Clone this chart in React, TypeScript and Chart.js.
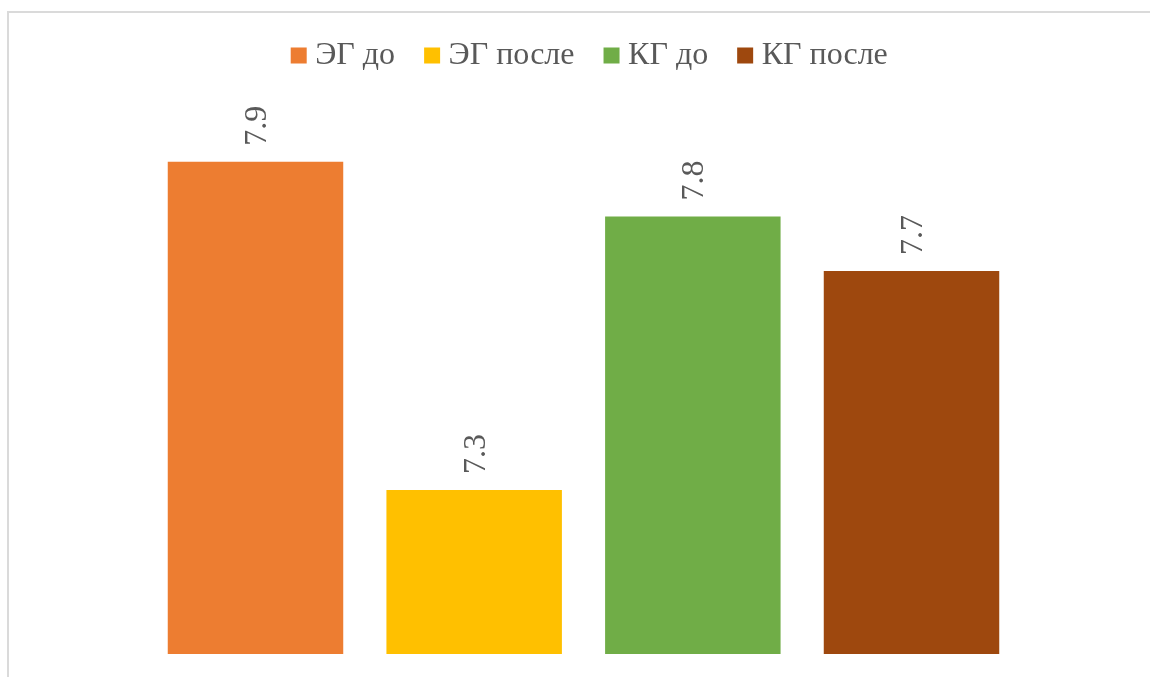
import React, { useEffect, useRef } from "react";
import { Chart, registerables } from "chart.js";

Chart.register(...registerables);

const categories: string[] = [""];
const seriesNames: string[] = ["ЭГ до", "ЭГ после", "КГ до", "КГ после"];
const seriesValues: number[][] = [[7.9], [7.3], [7.8], [7.7]];
const seriesColors: string[] = ["#ED7D31", "#FFC000", "#70AD47", "#9E480E"];

const FONT = '"Liberation Serif", "Times New Roman", serif';
const TEXT_COLOR = "#595959";

const valueLabels = {
  id: "valueLabels",
  afterDatasetsDraw(chart: any) {
    const ctx = chart.ctx;
    ctx.save();
    ctx.fillStyle = TEXT_COLOR;
    ctx.font = `32px ${FONT}`;
    ctx.textAlign = "left";
    ctx.textBaseline = "middle";
    chart.data.datasets.forEach((ds: any, i: number) => {
      const meta = chart.getDatasetMeta(i);
      meta.data.forEach((bar: any, j: number) => {
        const v = ds.data[j];
        ctx.save();
        ctx.translate(bar.x + 2, bar.y - 16);
        ctx.rotate(-Math.PI / 2);
        ctx.fillText(v.toFixed(1), 0, 0);
        ctx.restore();
      });
    });
    ctx.restore();
  },
};

export default function App() {
  const ref = useRef<HTMLCanvasElement | null>(null);

  useEffect(() => {
    if (!ref.current) return;
    const chart = new Chart(ref.current, {
      type: "bar",
      data: {
        labels: categories,
        datasets: seriesNames.map((name, i) => ({
          label: name,
          data: seriesValues[i],
          backgroundColor: seriesColors[i],
          borderWidth: 0,
          categoryPercentage: 0.7988,
          barPercentage: 0.8025,
        })),
      },
      options: {
        responsive: false,
        animation: false,
        devicePixelRatio: 1,
        layout: { padding: { left: 36, right: 0, top: 3, bottom: 23 } },
        plugins: {
          tooltip: { enabled: false },
          legend: {
            position: "top",
            labels: {
              usePointStyle: true,
              pointStyle: "rect",
              boxWidth: 1,
              boxHeight: 16,
              padding: 36.5,
              color: TEXT_COLOR,
              font: { family: FONT, size: 32 },
            },
          },
        },
        scales: {
          x: { display: false },
          y: {
            position: "right",
            min: 7,
            max: 8.0466,
            ticks: { display: false },
            grid: { display: false },
            border: { display: false },
            afterFit(scale: any) {
              scale.width = 19;
            },
          },
        },
      },
      plugins: [valueLabels],
    });
    return () => chart.destroy();
  }, []);

  return (
    <div
      style={{
        position: "fixed",
        left: 0,
        top: 0,
        width: 1150,
        height: 677,
        overflow: "hidden",
        background: "#fff",
      }}
    >
      <div
        style={{
          position: "absolute",
          left: 7,
          top: 11,
          width: 1143,
          height: 666,
          borderTop: "2px solid #dadada",
          borderLeft: "2px solid #dadada",
          boxSizing: "border-box",
        }}
      />
      <canvas
        ref={ref}
        width={1150}
        height={677}
        style={{ position: "absolute", left: 0, top: 0, width: 1150, height: 677 }}
      />
    </div>
  );
}
